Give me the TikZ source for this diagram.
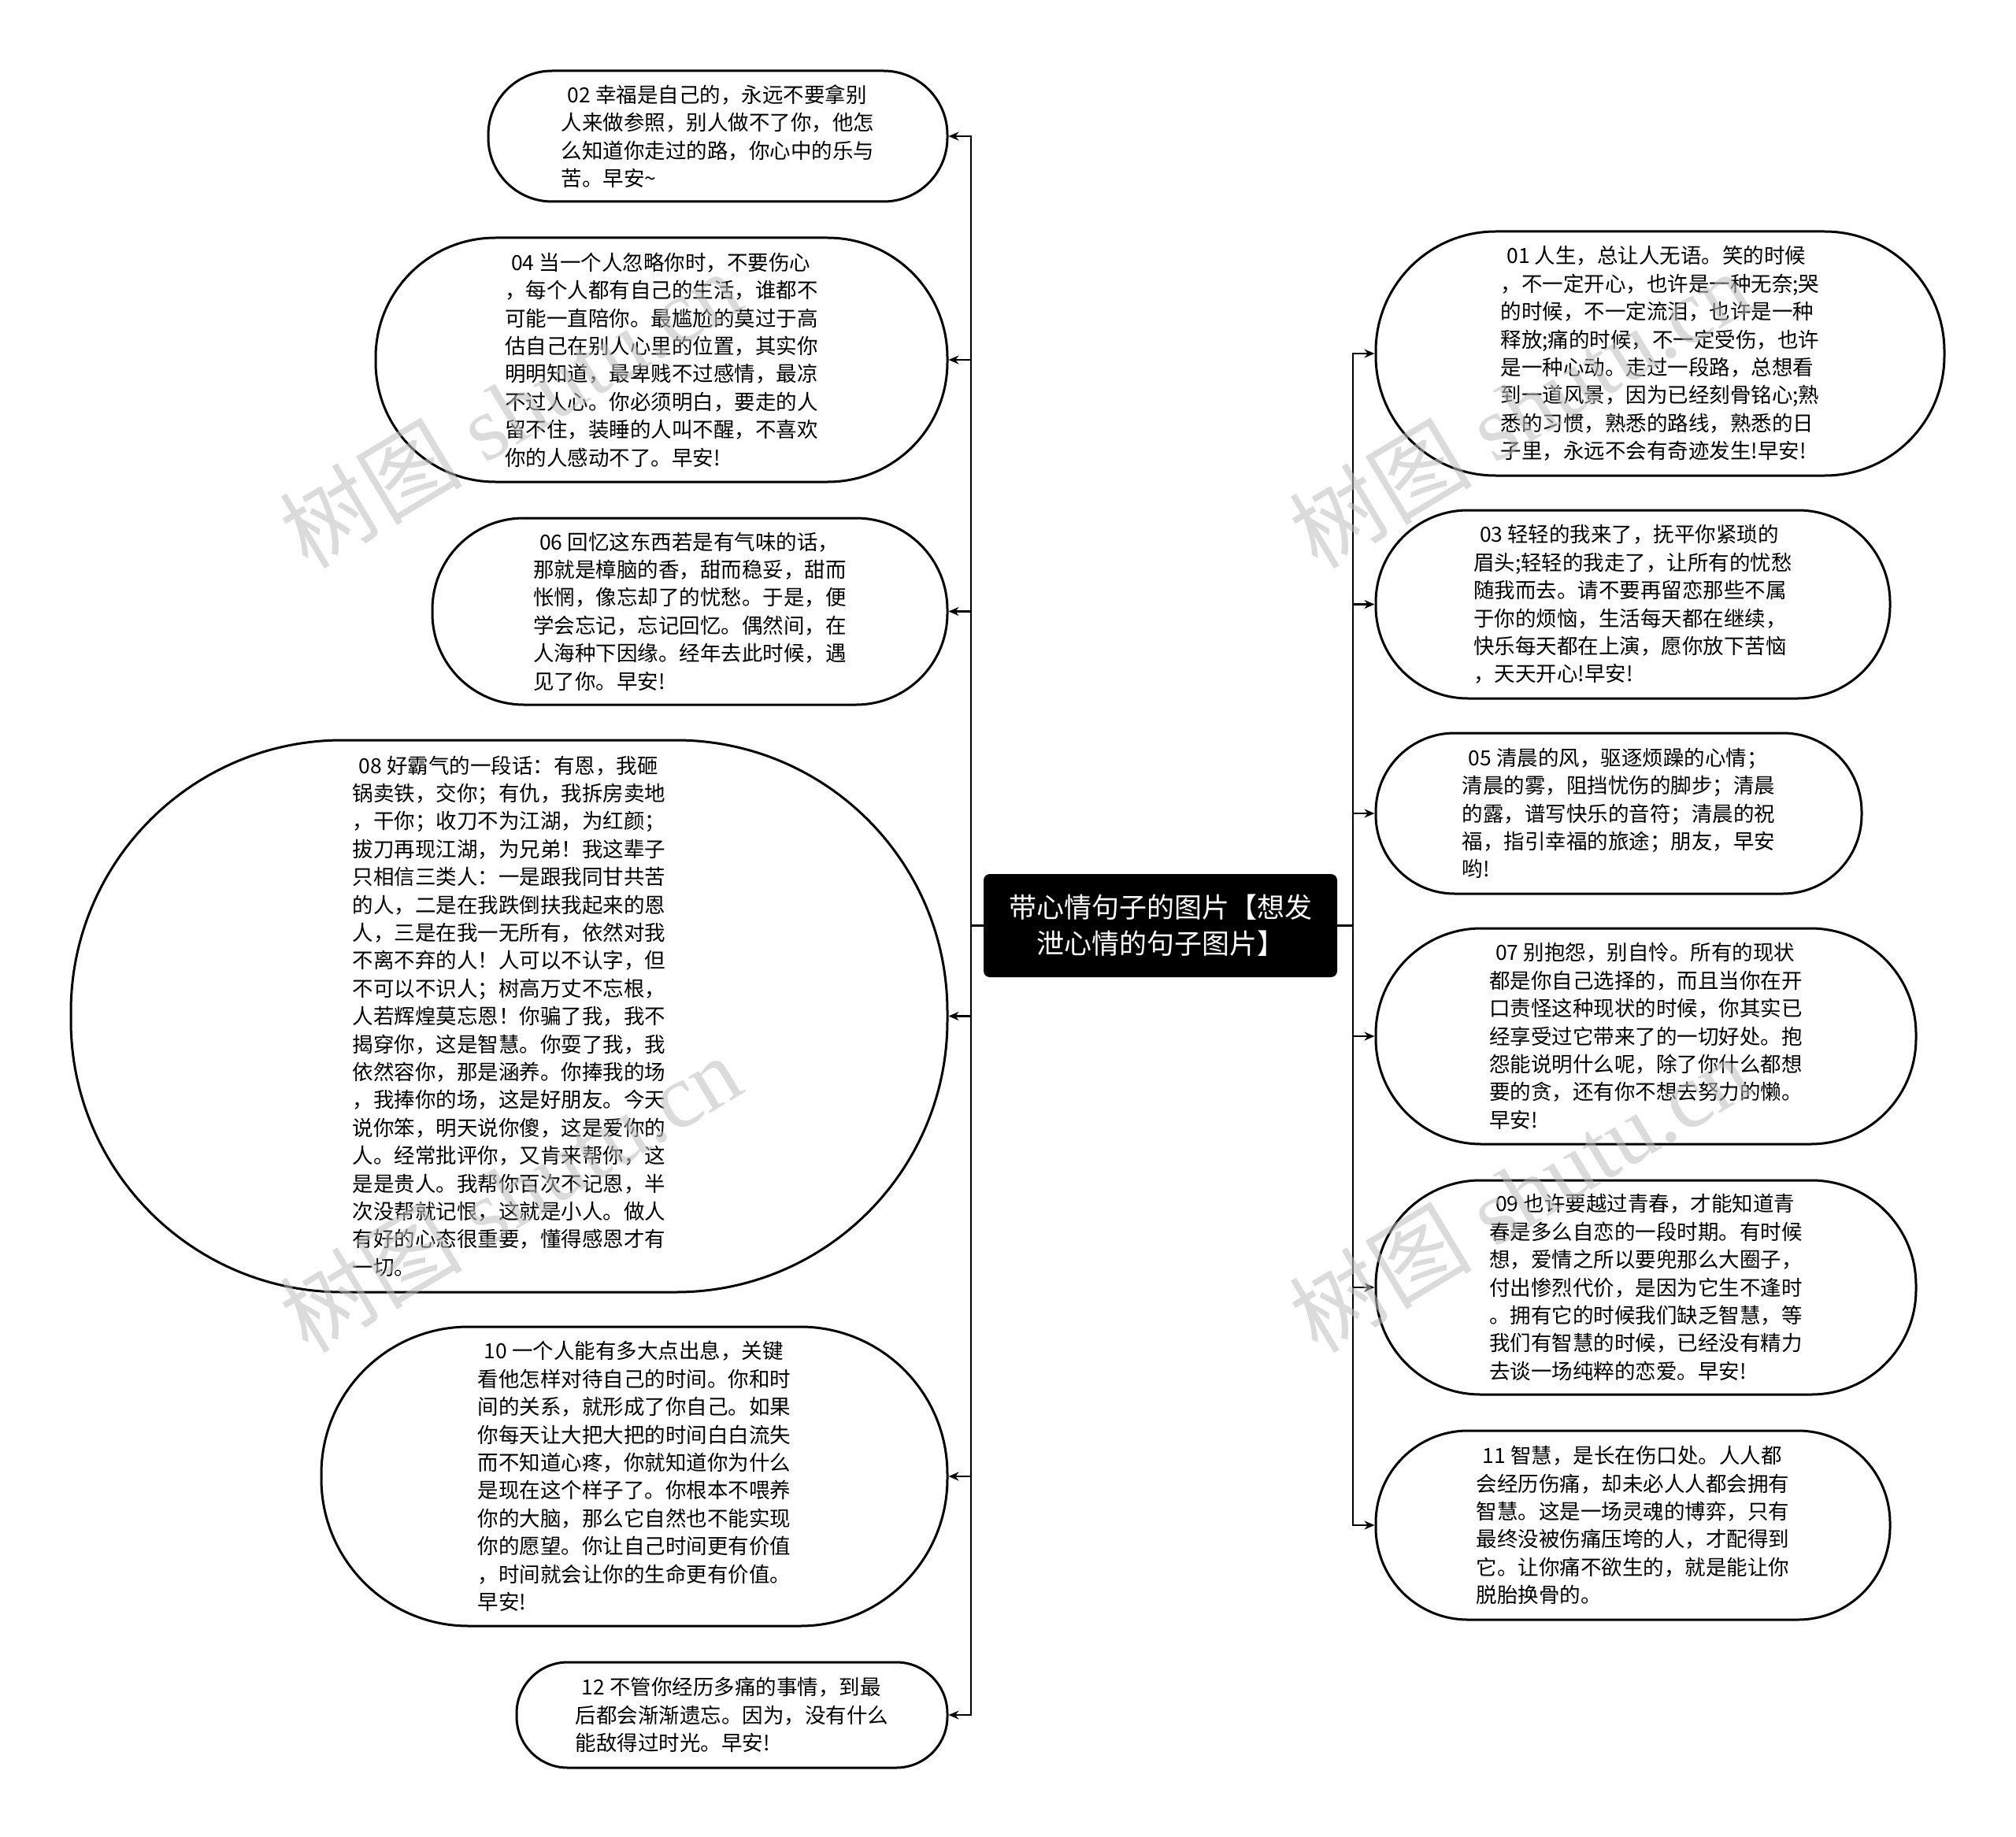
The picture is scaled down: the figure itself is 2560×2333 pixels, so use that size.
\documentclass[tikz,border=0pt]{standalone}
\usepackage{fontspec}
\setmainfont{Noto Sans CJK SC}
\newfontfamily\wmserif{Liberation Serif}
\usetikzlibrary{arrows.meta}
\begin{document}
\begin{tikzpicture}[x=1pt,y=-1pt,
  bubble/.style={draw=black, line width=3pt, fill=white, align=left, inner sep=0pt,
    font=\fontsize{26.5pt}{35.4pt}\selectfont},
  hub/.style={fill=black, text=white, rounded corners=8pt, align=center, inner sep=0pt,
    font=\fontsize{35pt}{45.7pt}\selectfont},
  link/.style={draw=black, line width=2.5pt, -{Stealth[length=13pt,width=11pt]}},
  wmark/.style={rotate=31, text=black!25, opacity=0.55, inner sep=0pt,
    font=\fontsize{116pt}{116pt}\selectfont}
]
\fill[white] (0,0) rectangle (2560,2333);
\useasboundingbox (0,0) rectangle (2560,2333);

% centre
\node[hub, minimum width=449pt, minimum height=131pt] (c) at (1473.5,1175.5)
  {带心情句子的图片【想发\\泄心情的句子图片】};

% left side
\node[bubble, minimum width=583pt, minimum height=166pt, rounded corners=81pt] (n02) at (911.5,173)
 {\hspace*{0.3em}02 幸福是自己的，永远不要拿别\\人来做参照，别人做不了你，他怎\\么知道你走过的路，你心中的乐与\\苦。早安\textasciitilde};

\node[bubble, minimum width=726pt, minimum height=310pt, rounded corners=152pt] (n04) at (840,457)
 {\hspace*{0.3em}04 当一个人忽略你时，不要伤心\\，每个人都有自己的生活，谁都不\\可能一直陪你。最尴尬的莫过于高\\估自己在别人心里的位置，其实你\\明明知道，最卑贱不过感情，最凉\\不过人心。你必须明白，要走的人\\留不住，装睡的人叫不醒，不喜欢\\你的人感动不了。早安!};

\node[bubble, minimum width=654pt, minimum height=237pt, rounded corners=116pt] (n06) at (876,776.5)
 {\hspace*{0.3em}06 回忆这东西若是有气味的话，\\那就是樟脑的香，甜而稳妥，甜而\\怅惘，像忘却了的忧愁。于是，便\\学会忘记，忘记回忆。偶然间，在\\人海种下因缘。经年去此时候，遇\\见了你。早安!};

\node[bubble, minimum width=1113pt, minimum height=701pt, rounded corners=345pt] (n08) at (646.5,1290.5)
 {\hspace*{0.3em}08 好霸气的一段话：有恩，我砸\\锅卖铁，交你；有仇，我拆房卖地\\，干你；收刀不为江湖，为红颜；\\拔刀再现江湖，为兄弟！我这辈子\\只相信三类人：一是跟我同甘共苦\\的人，二是在我跌倒扶我起来的恩\\人，三是在我一无所有，依然对我\\不离不弃的人！人可以不认字，但\\不可以不识人；树高万丈不忘根，\\人若辉煌莫忘恩！你骗了我，我不\\揭穿你，这是智慧。你耍了我，我\\依然容你，那是涵养。你捧我的场\\，我捧你的场，这是好朋友。今天\\说你笨，明天说你傻，这是爱你的\\人。经常批评你，又肯来帮你，这\\是是贵人。我帮你百次不记恩，半\\次没帮就记恨，这就是小人。做人\\有好的心态很重要，懂得感恩才有\\一切。};

\node[bubble, minimum width=795pt, minimum height=380pt, rounded corners=187pt] (n10) at (805.5,1875)
 {\hspace*{0.3em}10 一个人能有多大点出息，关键\\看他怎样对待自己的时间。你和时\\间的关系，就形成了你自己。如果\\你每天让大把大把的时间白白流失\\而不知道心疼，你就知道你为什么\\是现在这个样子了。你根本不喂养\\你的大脑，那么它自然也不能实现\\你的愿望。你让自己时间更有价值\\，时间就会让你的生命更有价值。\\早安!};

\node[bubble, minimum width=547pt, minimum height=134pt, rounded corners=65pt] (n12) at (929.5,2178)
 {\hspace*{0.3em}12 不管你经历多痛的事情，到最\\后都会渐渐遗忘。因为，没有什么\\能敌得过时光。早安!};

% right side
\node[bubble, minimum width=722pt, minimum height=310pt, rounded corners=152pt] (n01) at (2108,449)
 {\hspace*{0.3em}01 人生，总让人无语。笑的时候\\，不一定开心，也许是一种无奈;哭\\的时候，不一定流泪，也许是一种\\释放;痛的时候，不一定受伤，也许\\是一种心动。走过一段路，总想看\\到一道风景，因为已经刻骨铭心;熟\\悉的习惯，熟悉的路线，熟悉的日\\子里，永远不会有奇迹发生!早安!};

\node[bubble, minimum width=653pt, minimum height=239pt, rounded corners=117pt] (n03) at (2073.5,767.5)
 {\hspace*{0.3em}03 轻轻的我来了，抚平你紧琐的\\眉头;轻轻的我走了，让所有的忧愁\\随我而去。请不要再留恋那些不属\\于你的烦恼，生活每天都在继续，\\快乐每天都在上演，愿你放下苦恼\\，天天开心!早安!};

\node[bubble, minimum width=617pt, minimum height=204pt, rounded corners=100pt] (n05) at (2055.5,1033)
 {\hspace*{0.3em}05 清晨的风，驱逐烦躁的心情；\\清晨的雾，阻挡忧伤的脚步；清晨\\的露，谱写快乐的音符；清晨的祝\\福，指引幸福的旅途；朋友，早安\\哟!};

\node[bubble, minimum width=686pt, minimum height=274pt, rounded corners=134pt] (n07) at (2090,1316)
 {\hspace*{0.3em}07 别抱怨，别自怜。所有的现状\\都是你自己选择的，而且当你在开\\口责怪这种现状的时候，你其实已\\经享受过它带来了的一切好处。抱\\怨能说明什么呢，除了你什么都想\\要的贪，还有你不想去努力的懒。\\早安!};

\node[bubble, minimum width=686pt, minimum height=272pt, rounded corners=133pt] (n09) at (2090,1635)
 {\hspace*{0.3em}09 也许要越过青春，才能知道青\\春是多么自恋的一段时期。有时候\\想，爱情之所以要兜那么大圈子，\\付出惨烈代价，是因为它生不逢时\\。拥有它的时候我们缺乏智慧，等\\我们有智慧的时候，已经没有精力\\去谈一场纯粹的恋爱。早安!};

\node[bubble, minimum width=653pt, minimum height=240pt, rounded corners=117pt] (n11) at (2073.5,1937)
 {\hspace*{0.3em}11 智慧，是长在伤口处。人人都\\会经历伤痛，却未必人人都会拥有\\智慧。这是一场灵魂的博弈，只有\\最终没被伤痛压垮的人，才配得到\\它。让你痛不欲生的，就是能让你\\脱胎换骨的。};

% trunks
\coordinate (LT) at (1233,1175.5);
\coordinate (RT) at (1718,1175.5);

\foreach \n in {n02,n04,n06,n08,n10,n12}
  \draw[link] (c.west) -- (LT) |- (\n.east);
\foreach \n in {n01,n03,n05,n07,n09,n11}
  \draw[link] (c.east) -- (RT) |- (\n.west);

% watermarks
\node[wmark] (w1) at (648,519) {树图\hspace{0.25em}{\wmserif shutu.cn}};
\node[wmark] (w2) at (1930,519) {树图\hspace{0.25em}{\wmserif shutu.cn}};
\node[wmark] (w3) at (648,1515) {树图\hspace{0.25em}{\wmserif shutu.cn}};
\node[wmark] (w4) at (1930,1515) {树图\hspace{0.25em}{\wmserif shutu.cn}};
\end{tikzpicture}
\end{document}
